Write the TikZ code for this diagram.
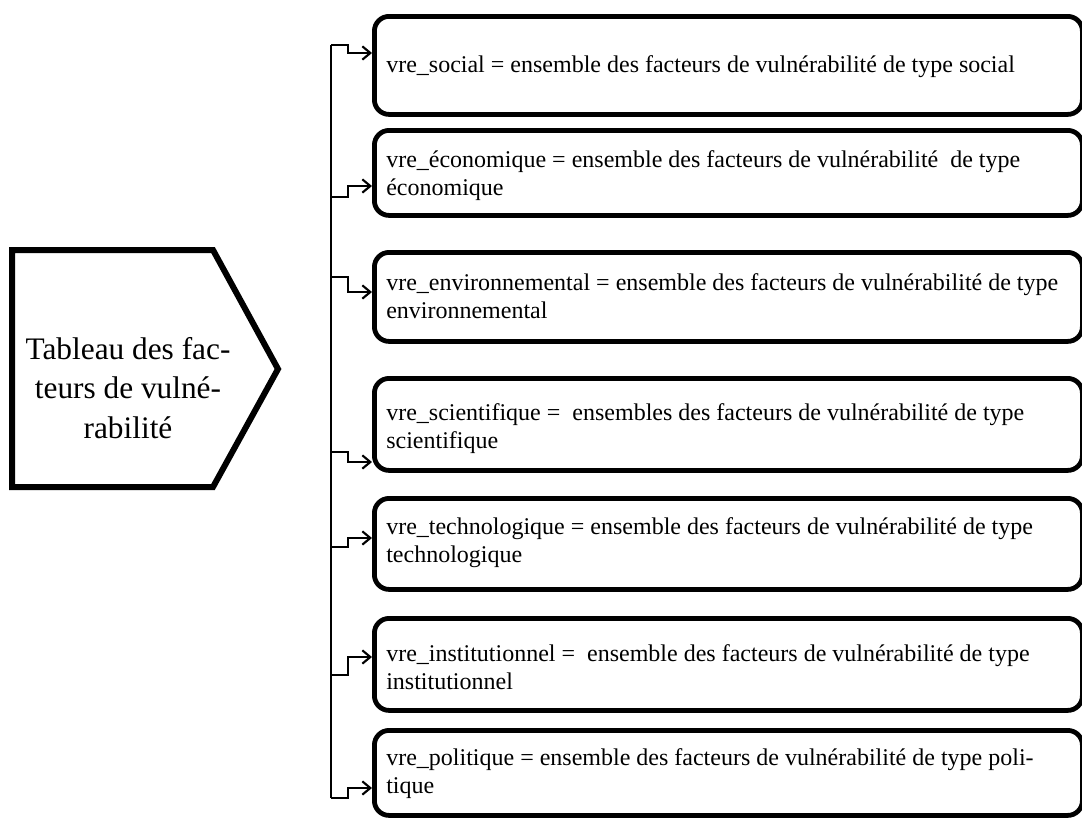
\documentclass[tikz,border=0pt]{standalone}
\usepackage{fontspec}
\setmainfont{Liberation Serif}
\usetikzlibrary{arrows.meta}

\begin{document}
\begin{tikzpicture}[x=0.75pt, y=-0.75pt,
  vbox/.style={draw, line width=3.6pt, rounded corners=11pt, minimum width=531pt, anchor=north west, inner sep=0pt},
  vtxt/.style={anchor=base west, inner sep=0pt, align=left, font=\fontsize{18}{20.5}\selectfont},
  link/.style={-{Straight Barb[length=6pt,width=10pt,line width=1.6pt]}, line width=1.6pt},
  bus/.style={line width=1.6pt}]

\useasboundingbox (0,0) rectangle (1082,818);

% Left shape
\draw[line width=4.5pt, line join=miter] (12,250) -- (213,250) -- (278,369) -- (213,487) -- (12,487) -- cycle;
\node[font=\fontsize{23.5}{29.4}\selectfont, align=center, anchor=base, inner sep=0pt] (tab) at (128,438) {Tableau des fac-\\teurs de vulné-\\rabilité};

% Boxes
\node[vbox, minimum height=73.5pt] (soc) at (372,14) {};
\node[vbox, minimum height=63.75pt] (eco) at (372,128) {};
\node[vbox, minimum height=66.75pt] (env) at (372,250) {};
\node[vbox, minimum height=69pt] (sci) at (372,376) {};
\node[vbox, minimum height=68.25pt] (tec) at (372,496) {};
\node[vbox, minimum height=69pt] (ins) at (372,616) {};
\node[vbox, minimum height=63.75pt] (pol) at (372,728) {};

% Box texts (anchored at the last line)
\node[vtxt] (tsoc) at (386,72) {vre\_social = ensemble des facteurs de vulnérabilité de type social};
\node[vtxt] (teco) at (386,195) {vre\_économique = ensemble des facteurs de vulnérabilité \ de type\\économique};
\node[vtxt] (tenv) at (386,318) {vre\_environnemental = ensemble des facteurs de vulnérabilité de type\\environnemental};
\node[vtxt] (tsci) at (386,448) {vre\_scientifique = \ ensembles des facteurs de vulnérabilité de type\\scientifique};
\node[vtxt] (ttec) at (386,562) {vre\_technologique = ensemble des facteurs de vulnérabilité de type\\technologique};
\node[vtxt] (tins) at (386,689) {vre\_institutionnel = \ ensemble des facteurs de vulnérabilité de type\\institutionnel};
\node[vtxt] (tpol) at (386,793) {vre\_politique = ensemble des facteurs de vulnérabilité de type poli-\\tique};

% Bus points
\coordinate (j1) at (331,45);
\coordinate (j2) at (331,197);
\coordinate (j3) at (331,277);
\coordinate (j4) at (331,452);
\coordinate (j5) at (331,547);
\coordinate (j6) at (331,675);
\coordinate (j7) at (331,798);

\draw[bus] (j1) -- (j7);

% Branches
\draw[link] (j1) -- ++(17,0) |- (soc.west |- 0,53);
\draw[link] (j2) -- ++(17,0) |- (eco.west |- 0,186);
\draw[link] (j3) -- ++(17,0) |- (env.west |- 0,292);
\draw[link] (j4) -- ++(17,0) |- (sci.west |- 0,462);
\draw[link] (j5) -- ++(17,0) |- (tec.west |- 0,538);
\draw[link] (j6) -- ++(17,0) |- (ins.west |- 0,657);
\draw[link] (j7) -- ++(17,0) |- (pol.west |- 0,788);

\end{tikzpicture}
\end{document}
